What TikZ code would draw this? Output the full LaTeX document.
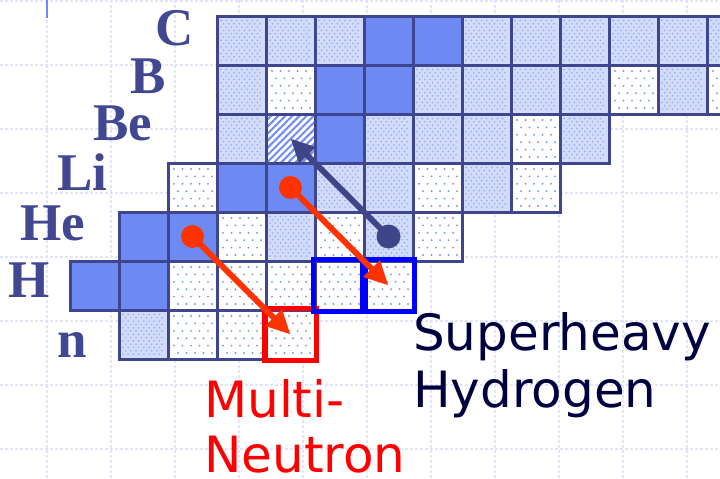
\documentclass[tikz,border=0pt]{standalone}
\usepackage{fontspec}
\usetikzlibrary{arrows.meta,patterns,patterns.meta}
\newfontfamily\labfont{Liberation Serif}
\newfontfamily\sansf{DejaVu Sans}
\definecolor{navy}{HTML}{3F458F}
\definecolor{solidb}{HTML}{6E8AF2}
\definecolor{densebg}{HTML}{D3DBFA}
\definecolor{densedot}{HTML}{92A6F3}
\definecolor{dotc}{HTML}{7F96F1}
\definecolor{gridc}{HTML}{E2E5F8}
\definecolor{labc}{HTML}{414791}
\definecolor{arrred}{HTML}{FF3300}
\definecolor{arrdark}{HTML}{404488}
\definecolor{txtnavy}{HTML}{000040}
\tikzset{
  cell/.style={rectangle, minimum size=49pt, inner sep=0pt, draw=navy, line width=3pt},
  solidcell/.style={cell, fill=solidb},
  densecell/.style={cell, fill=densebg},
  sparsecell/.style={cell, fill=white},
  hatchcell/.style={cell, preaction={fill=white}, pattern={Lines[angle=45,distance=5pt,line width=2pt]}, pattern color=solidb},
  elab/.style={anchor=base west, inner sep=0pt, text=labc, font=\labfont\bfseries\fontsize{53}{60}\selectfont},
  sanslab/.style={anchor=base west, inner sep=0pt, font=\sansf\fontsize{50}{60}\selectfont},
  redarr/.style={draw=arrred, line width=6pt, -{Triangle[length=24pt,width=22pt]}},
  darkarr/.style={draw=arrdark, line width=6pt, -{Triangle[length=24pt,width=22pt]}},
  gridline/.style={draw=gridc, line width=1.5pt, dash pattern=on 3pt off 2pt},
}
\begin{document}
\begin{tikzpicture}[x=1pt,y=-1pt]
\useasboundingbox (0,0) rectangle (720,479);
\clip (0,0) rectangle (720,479);
% background grid
\foreach \k in {0,...,10} \draw[gridline] ({47+64*\k},0) -- ({47+64*\k},479);
\foreach \k in {0,...,7} \draw[gridline] (0,{1+64*\k}) -- (720,{1+64*\k});
\draw[draw=solidb, line width=2pt] (47,0) -- (47,18);
% cells: Z/N
\foreach \z/\n in {1/0,1/1,2/1,2/2,3/3,3/4,4/5,5/5,5/6,6/6,6/7}
  \node[solidcell] (z\z n\n) at ({94.5+49*\n},{40.5+49*(6-\z)}) {};
\foreach \z/\n in {0/1,2/4,2/6,3/5,3/6,3/8,4/3,4/6,4/7,4/8,4/10,5/3,5/7,5/8,5/9,5/10,5/12,6/3,6/4,6/5,6/8,6/9,6/10,6/11,6/12,6/13}{
  \node[densecell] (z\z n\n) at ({94.5+49*\n},{40.5+49*(6-\z)}) {};
  \foreach \j in {0,...,12}{
    \pgfmathsetmacro{\off}{mod(\j,2)*2.6}
    \foreach \i in {0,...,7}
      \fill[densedot] ({70+49*\n+4+\off+5.2*\i},{16+49*(6-\z)+4.5+3.3*\j}) circle (0.85);
  }
}
\foreach \z/\n in {0/2,0/3,0/4,1/2,1/3,1/4,1/5,1/6,2/3,2/5,2/7,3/2,3/7,3/9,4/9,5/4,5/11,5/13}{
  \node[sparsecell] (z\z n\n) at ({94.5+49*\n},{40.5+49*(6-\z)}) {};
  \foreach \j in {0,...,5}{
    \pgfmathsetmacro{\off}{mod(\j,2)*4}
    \foreach \i in {0,...,4}
      \fill[dotc] ({70+49*\n+6+\off+8.5*\i},{16+49*(6-\z)+6+7.4*\j}) circle (1.05);
  }
}
\node[hatchcell] (z4n4) at ({94.5+49*4},{40.5+49*2}) {};
% highlight boxes
\draw[draw=red, line width=5pt] (z0n4.north west) rectangle (z0n4.south east);
\draw[draw=blue, line width=5pt] (z1n5.north west) rectangle (z1n5.south east);
\draw[draw=blue, line width=5pt] (z1n6.north west) rectangle (z1n6.south east);
% element labels
\node[elab] (lC) at (155,45) {C};
\node[elab] (lB) at (130,93) {B};
\node[elab] (lBe) at (93,140) {Be};
\node[elab] (lLi) at (57,190) {Li};
\node[elab] (lHe) at (20,240) {He};
\node[elab] (lH) at (8,297) {H};
\node[elab] (ln) at (57,357) {n};
% arrows
\fill[arrred] (z2n2.center) circle (11.5);
\draw[redarr] (z2n2.center) -- (z0n4.center);
\fill[arrred] (z3n4.center) circle (11.5);
\draw[redarr] (z3n4.center) -- (z1n6.center);
\fill[arrdark] (z2n6.center) circle (12);
\draw[darkarr] (z2n6.center) -- (z4n4.center);
% texts
\node[sanslab, text=txtnavy] (t1) at (413,350) {Superheavy};
\node[sanslab, text=txtnavy] (t2) at (413,407) {Hydrogen};
\node[sanslab, text=red] (t3) at (204,417) {Multi-};
\node[sanslab, text=red] (t4) at (204,472) {Neutron};
\end{tikzpicture}
\end{document}
